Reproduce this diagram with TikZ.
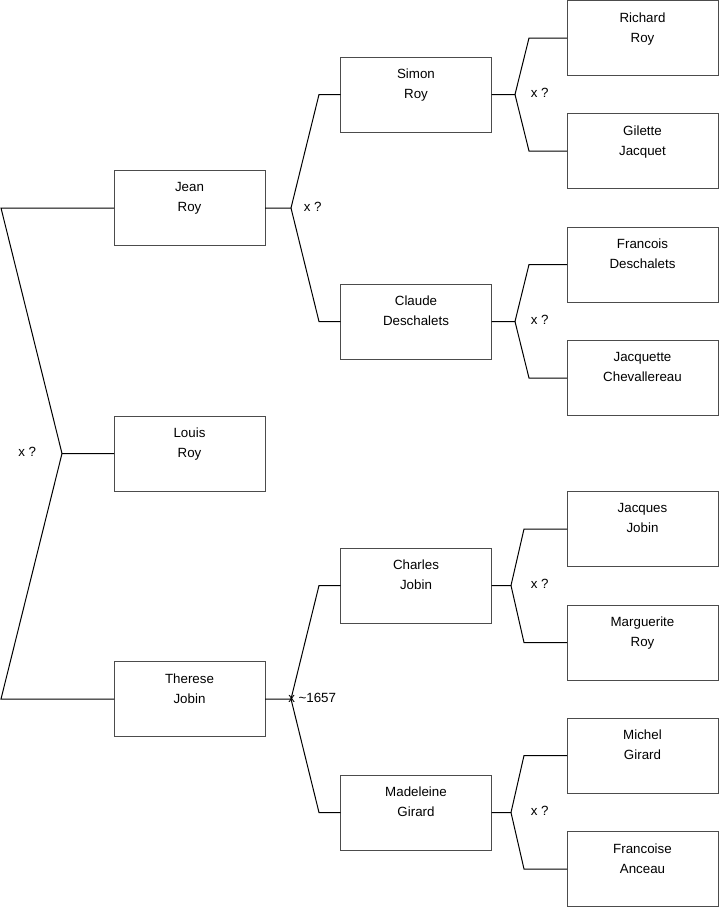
\documentclass[tikz,border=0pt]{standalone}
\usepackage{fontspec}
\setmainfont{Liberation Sans}
\begin{document}
\begin{tikzpicture}[x=0.75pt,y=-0.75pt,
  person/.style={draw=black!70, line width=0.75pt, rectangle, minimum width=113.25pt, minimum height=56.25pt, inner sep=0pt, outer sep=0pt},
  names/.style={anchor=north, inner sep=0pt, yshift=-9pt, align=center, font=\fontsize{10}{15}\selectfont, execute at begin node=\strut},
  link/.style={draw=black, line width=0.75pt, line join=miter},
  marr/.style={anchor=west, inner sep=0pt, font=\fontsize{10}{12}\selectfont}
]
\useasboundingbox (0,0) rectangle (719,908);

% generation 1
\node[person, label={[names]north:{Louis\\Roy}}] (louis) at (189.5,453.5) {};
% generation 2
\node[person, label={[names]north:{Jean\\Roy}}] (jean) at (189.5,208) {};
\node[person, label={[names]north:{Therese\\Jobin}}] (therese) at (189.5,699) {};
% generation 3
\node[person, label={[names]north:{Simon\\Roy}}] (simon) at (416,94.5) {};
\node[person, label={[names]north:{Claude\\Deschalets}}] (claude) at (416,321.5) {};
\node[person, label={[names]north:{Charles\\Jobin}}] (charles) at (416,585.5) {};
\node[person, label={[names]north:{Madeleine\\Girard}}] (madeleine) at (416,812.5) {};
% generation 4
\node[person, label={[names]north:{Richard\\Roy}}] (richard) at (642.5,38) {};
\node[person, label={[names]north:{Gilette\\Jacquet}}] (gilette) at (642.5,151) {};
\node[person, label={[names]north:{Francois\\Deschalets}}] (francois) at (642.5,264.5) {};
\node[person, label={[names]north:{Jacquette\\Chevallereau}}] (jacquette) at (642.5,378) {};
\node[person, label={[names]north:{Jacques\\Jobin}}] (jacques) at (642.5,529) {};
\node[person, label={[names]north:{Marguerite\\Roy}}] (marguerite) at (642.5,642.5) {};
\node[person, label={[names]north:{Michel\\Girard}}] (michel) at (642.5,755.5) {};
\node[person, label={[names]north:{Francoise\\Anceau}}] (francoise) at (642.5,869) {};

% junction points
\coordinate (jL) at (62,453.5);
\coordinate (jLu) at (1,208);
\coordinate (jLd) at (1,699);
\coordinate (jJ) at (291,208);
\coordinate (jJu) at (319,94.5);
\coordinate (jJd) at (319,321.5);
\coordinate (jT) at (291,699);
\coordinate (jTu) at (319,585.5);
\coordinate (jTd) at (319,812.5);
\coordinate (jS) at (515,94.5);
\coordinate (jSu) at (529,38);
\coordinate (jSd) at (529,151);
\coordinate (jC) at (515,321.5);
\coordinate (jCu) at (529,264.5);
\coordinate (jCd) at (529,378);
\coordinate (jH) at (511,585.5);
\coordinate (jHu) at (524,529);
\coordinate (jHd) at (524,642.5);
\coordinate (jM) at (511,812.5);
\coordinate (jMu) at (524,755.5);
\coordinate (jMd) at (524,869);

% connectors
\draw[link] (louis.west) -- (jL) -- (jLu) -- (jean.west);
\draw[link] (jL) -- (jLd) -- (therese.west);
\draw[link] (jean.east) -- (jJ) -- (jJu) -- (simon.west);
\draw[link] (jJ) -- (jJd) -- (claude.west);
\draw[link] (therese.east) -- (jT) -- (jTu) -- (charles.west);
\draw[link] (jT) -- (jTd) -- (madeleine.west);
\draw[link] (simon.east) -- (jS) -- (jSu) -- (richard.west);
\draw[link] (jS) -- (jSd) -- (gilette.west);
\draw[link] (claude.east) -- (jC) -- (jCu) -- (francois.west);
\draw[link] (jC) -- (jCd) -- (jacquette.west);
\draw[link] (charles.east) -- (jH) -- (jHu) -- (jacques.west);
\draw[link] (jH) -- (jHd) -- (marguerite.west);
\draw[link] (madeleine.east) -- (jM) -- (jMu) -- (michel.west);
\draw[link] (jM) -- (jMd) -- (francoise.west);

% marriage labels
\node[marr] (mL) at (18,451.5) {x ?};
\node[marr] (mJ) at (303.5,207) {x ?};
\node[marr] (mT) at (288,698) {x \char`\~1657};
\node[marr] (mS) at (530.5,92.5) {x ?};
\node[marr] (mC) at (530.5,320) {x ?};
\node[marr] (mH) at (530.5,583.5) {x ?};
\node[marr] (mM) at (530.5,810.5) {x ?};
\end{tikzpicture}
\end{document}
